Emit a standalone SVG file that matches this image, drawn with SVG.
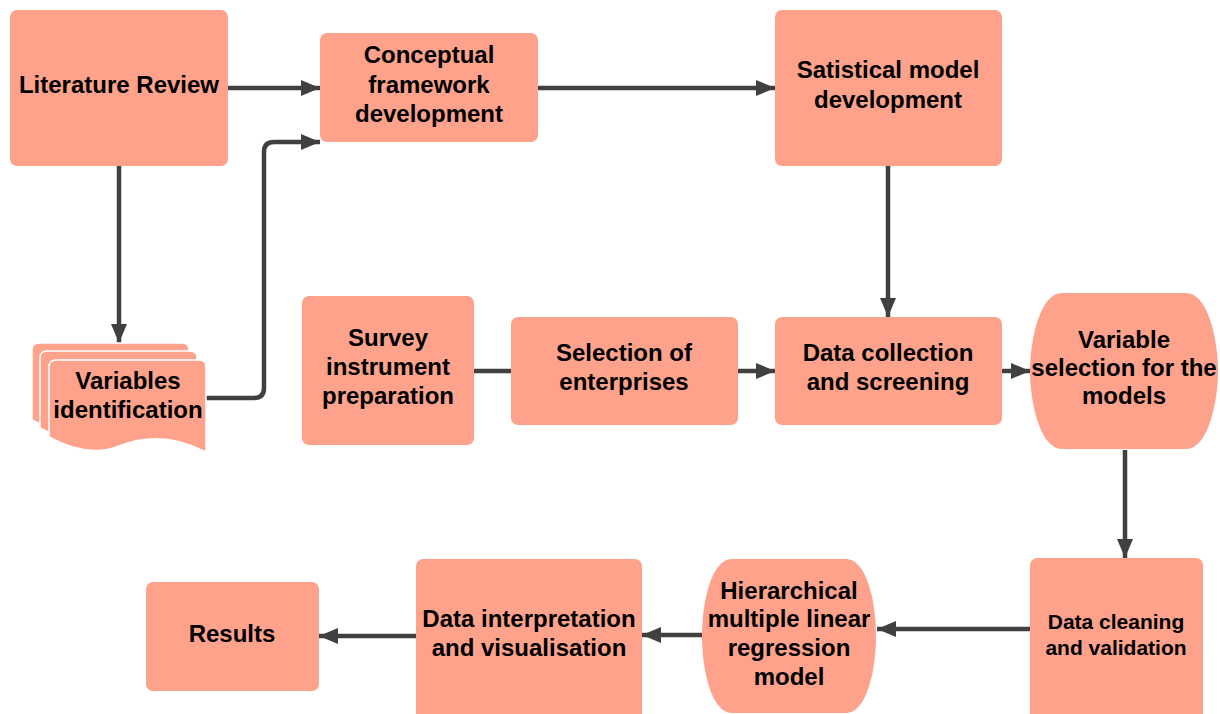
<svg xmlns="http://www.w3.org/2000/svg" width="1220" height="714" viewBox="0 0 1220 714">
  <style>
    .box { fill: #FEA28C; }
    .lbl { font-family: "Liberation Sans", Arial, sans-serif; font-weight: bold; font-size: 24px; fill: #000; text-anchor: middle; }
    .sm { font-size: 21px; }
    .edge { fill: none; stroke: #404040; stroke-width: 4.5; }
    .sheet { fill: #FEA28C; stroke: #ffffff; stroke-width: 1.5; }
  </style>
  <defs>
    <marker id="arrow" markerUnits="userSpaceOnUse" markerWidth="20" markerHeight="16" refX="19" refY="8" orient="auto">
      <path d="M0,0 L19,8 L0,16 z" fill="#404040"/>
    </marker>
    <!-- one page of the multi-document stack -->
    <path id="page" d="M7,0 H150 Q157,0 157,7 V92 C130,78 100,74 70,86 C45,96 20,88 0,77 V7 Q0,0 7,0 Z"/>
  </defs>
  <rect width="1220" height="714" fill="#ffffff"/>

  <g id="connectors">
    <line class="edge" x1="228" y1="88" x2="320" y2="88" marker-end="url(#arrow)"/>
    <line class="edge" x1="538" y1="88" x2="775" y2="88" marker-end="url(#arrow)"/>
    <line class="edge" x1="119" y1="166" x2="119" y2="343" marker-end="url(#arrow)"/>
    <path class="edge" d="M206,398 H254 Q264,398 264,388 V152 Q264,142 274,142 H320" marker-end="url(#arrow)"/>
    <line class="edge" x1="888" y1="166" x2="888" y2="317" marker-end="url(#arrow)"/>
    <line class="edge" x1="474" y1="371" x2="511" y2="371"/>
    <line class="edge" x1="738" y1="371" x2="775" y2="371" marker-end="url(#arrow)"/>
    <line class="edge" x1="1002" y1="371" x2="1030" y2="371" marker-end="url(#arrow)"/>
    <line class="edge" x1="1125" y1="450" x2="1125" y2="558" marker-end="url(#arrow)"/>
    <line class="edge" x1="1030" y1="629" x2="877" y2="629" marker-end="url(#arrow)"/>
    <line class="edge" x1="702" y1="635" x2="642" y2="635" marker-end="url(#arrow)"/>
    <line class="edge" x1="416" y1="636" x2="319" y2="636" marker-end="url(#arrow)"/>
  </g>

  <g id="literature-review">
    <rect class="box" x="10" y="10" width="218" height="156" rx="7"/>
    <text class="lbl" x="119" y="93">Literature Review</text>
  </g>

  <g id="conceptual-framework">
    <rect class="box" x="320" y="33" width="218" height="109" rx="7"/>
    <text class="lbl" x="429" y="63">Conceptual</text>
    <text class="lbl" x="429" y="93">framework</text>
    <text class="lbl" x="429" y="122">development</text>
  </g>

  <g id="statistical-model">
    <rect class="box" x="775" y="10" width="227" height="156" rx="7"/>
    <text class="lbl" x="888" y="78">Satistical model</text>
    <text class="lbl" x="888" y="108">development</text>
  </g>

  <g id="variables-identification">
    <use href="#page" class="sheet" x="32" y="343"/>
    <use href="#page" class="sheet" x="40" y="351"/>
    <use href="#page" class="sheet" x="49" y="360"/>
    <text class="lbl" x="128" y="389">Variables</text>
    <text class="lbl" x="128" y="418">identification</text>
  </g>

  <g id="survey-instrument">
    <rect class="box" x="302" y="296" width="172" height="149" rx="7"/>
    <text class="lbl" x="388" y="346">Survey</text>
    <text class="lbl" x="388" y="375">instrument</text>
    <text class="lbl" x="388" y="404">preparation</text>
  </g>

  <g id="selection-enterprises">
    <rect class="box" x="511" y="317" width="227" height="108" rx="7"/>
    <text class="lbl" x="624" y="361">Selection of</text>
    <text class="lbl" x="624" y="390">enterprises</text>
  </g>

  <g id="data-collection">
    <rect class="box" x="775" y="317" width="227" height="108" rx="7"/>
    <text class="lbl" x="888" y="361">Data collection</text>
    <text class="lbl" x="888" y="390">and screening</text>
  </g>

  <g id="variable-selection">
    <path class="box" d="M1062,293 H1186 C1208,293 1218,340 1218,371 C1218,402 1208,449 1186,449 H1062 C1040,449 1030,402 1030,371 C1030,340 1040,293 1062,293 Z"/>
    <text class="lbl" x="1124" y="348">Variable</text>
    <text class="lbl" x="1124" y="376">selection for the</text>
    <text class="lbl" x="1124" y="404">models</text>
  </g>

  <g id="data-cleaning">
    <rect class="box" x="1030" y="558" width="173" height="162" rx="7"/>
    <text class="lbl sm" x="1116" y="629">Data cleaning</text>
    <text class="lbl sm" x="1116" y="655">and validation</text>
  </g>

  <g id="regression-model">
    <path class="box" d="M732,559 H846 C866,559 876,600 876,636 C876,672 866,713 846,713 H732 C712,713 702,672 702,636 C702,600 712,559 732,559 Z"/>
    <text class="lbl" x="789" y="599">Hierarchical</text>
    <text class="lbl" x="789" y="627">multiple linear</text>
    <text class="lbl" x="789" y="656">regression</text>
    <text class="lbl" x="789" y="685">model</text>
  </g>

  <g id="data-interpretation">
    <rect class="box" x="416" y="559" width="226" height="162" rx="7"/>
    <text class="lbl" x="529" y="627">Data interpretation</text>
    <text class="lbl" x="529" y="656">and visualisation</text>
  </g>

  <g id="results">
    <rect class="box" x="146" y="582" width="173" height="109" rx="7"/>
    <text class="lbl" x="232" y="642">Results</text>
  </g>
</svg>
